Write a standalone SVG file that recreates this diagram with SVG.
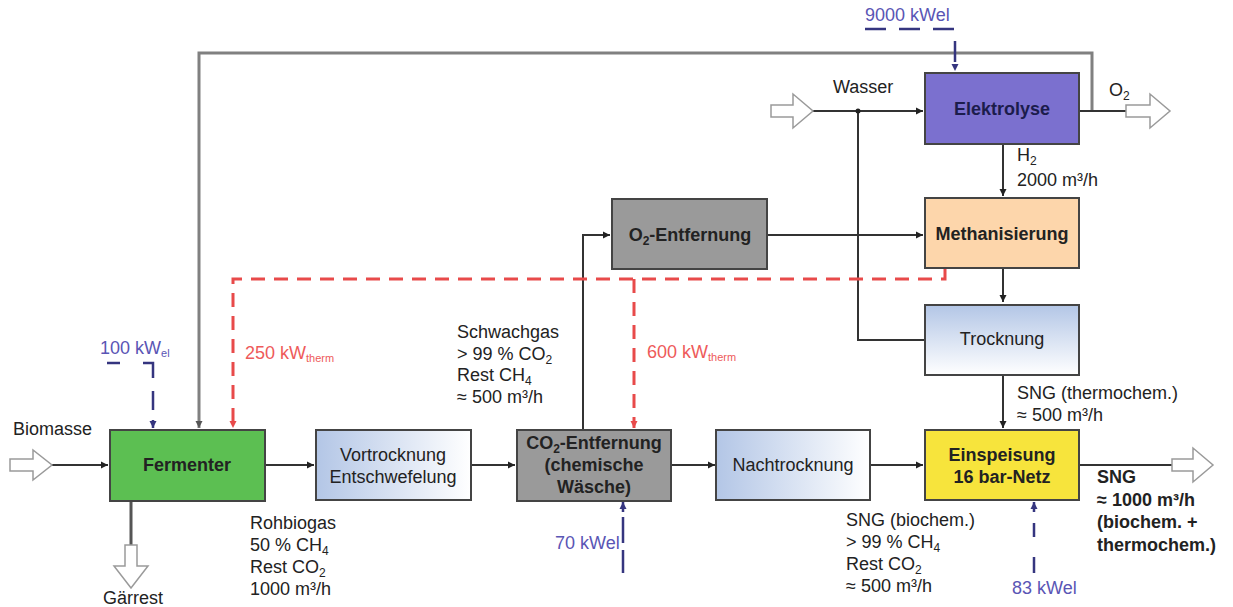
<svg xmlns="http://www.w3.org/2000/svg" width="1233" height="607" viewBox="0 0 1233 607">
<style>
.t{font-family:"Liberation Sans",Arial,sans-serif;font-size:18px;fill:#222}
.b{font-weight:bold}
.c{text-anchor:middle}
.blue{fill:#5a55b5}
.red{fill:#ee5a5a}
.box{stroke:#444;stroke-width:2}
.ln{fill:none;stroke:#333;stroke-width:2}
.loop{fill:none;stroke:#808080;stroke-width:3}
.rd{fill:none;stroke:#e84a4a;stroke-width:3;stroke-dasharray:14 9}
.bd{fill:none;stroke:#35357f;stroke-width:2.5}
.hollow{fill:#fff;stroke:#9a9a9a;stroke-width:1.5}
</style>
<defs>
<marker id="ah" markerWidth="8" markerHeight="8" refX="7" refY="4" orient="auto" markerUnits="userSpaceOnUse"><path d="M0,0.5 L7,4 L0,7.5 z" fill="#222"/></marker>
<marker id="ahg" markerWidth="8" markerHeight="8" refX="7" refY="4" orient="auto" markerUnits="userSpaceOnUse"><path d="M0,0.5 L7,4 L0,7.5 z" fill="#555"/></marker>
<marker id="ahr" markerWidth="8" markerHeight="8" refX="7" refY="4" orient="auto" markerUnits="userSpaceOnUse"><path d="M0,0.5 L7,4 L0,7.5 z" fill="#e84a4a"/></marker>
<marker id="ahb" markerWidth="8" markerHeight="8" refX="7" refY="4" orient="auto" markerUnits="userSpaceOnUse"><path d="M0,0.5 L7,4 L0,7.5 z" fill="#35357f"/></marker>
<linearGradient id="gh" x1="0" y1="0" x2="1" y2="0"><stop offset="0" stop-color="#b3c6e6"/><stop offset="1" stop-color="#ffffff"/></linearGradient>
<linearGradient id="gv" x1="0" y1="0" x2="0" y2="1"><stop offset="0" stop-color="#b3c6e6"/><stop offset="1" stop-color="#ffffff"/></linearGradient>
</defs>
<rect width="1233" height="607" fill="#fff"/>

<g id="connectors">
<path class="loop" d="M1092,111 V53 H199 V428" marker-end="url(#ahg)"/>
<path class="ln" d="M52,465 H108" marker-end="url(#ah)"/>
<path class="ln" d="M265,465 H314" marker-end="url(#ah)"/>
<path class="ln" d="M471,465 H515" marker-end="url(#ah)"/>
<path class="ln" d="M671,465 H715" marker-end="url(#ah)"/>
<path class="ln" d="M870,465 H923" marker-end="url(#ah)"/>
<path class="ln" d="M1079,465 H1172"/>
<path d="M131,501 V545" fill="none" stroke="#555" stroke-width="3"/>
<path class="ln" d="M583,430 V235 H610" marker-end="url(#ah)"/>
<path class="ln" d="M767,235 H923" marker-end="url(#ah)"/>
<path class="ln" d="M1003,144 V196" marker-end="url(#ah)"/>
<path class="ln" d="M1003,269 V302" marker-end="url(#ah)"/>
<path class="ln" d="M1003,375 V428" marker-end="url(#ah)"/>
<path class="ln" d="M813,111 H923" marker-end="url(#ah)"/>
<path class="ln" d="M1079,111 H1126"/>
<path class="ln" d="M925,340 H858 V111"/>
<circle cx="858" cy="111" r="2.5" fill="#222"/>
<path class="rd" d="M945,269 V279 H233 V428" marker-end="url(#ahr)"/>
<path class="rd" d="M634,279 V428" marker-end="url(#ahr)"/>
<path class="bd" d="M107,363 H120" />
<path class="bd" d="M143,363 H153 V378 M153,391 V410 M153,420 V428" marker-end="url(#ahb)"/>
<path class="bd" stroke-dasharray="21 13" d="M865,29 H955 V71" marker-end="url(#ahb)"/>
<path class="bd" d="M623,573 V550 M623,543 V517 M623,512 V502" marker-end="url(#ahb)"/>
<path class="bd" d="M1034,573 V557 M1034,537 V523 M1034,512 V502" marker-end="url(#ahb)"/>
</g>

<g id="arrows-hollow">
<polygon class="hollow" points="10,459 33,459 33,450 52,465 33,480 33,471 10,471"/>
<polygon class="hollow" points="771,105 793,105 793,94 813,111 793,128 793,117 771,117"/>
<polygon class="hollow" points="1126,105 1150,105 1150,94 1170,111 1150,128 1150,117 1126,117"/>
<polygon class="hollow" points="1172,459 1193,459 1193,448 1213,465 1193,482 1193,471 1172,471"/>
<polygon class="hollow" points="125,545 137,545 137,566 148,566 131,588 114,566 125,566"/>
</g>

<g id="fermenter">
<rect class="box" x="110" y="430" width="155" height="71" fill="#5cbf52"/>
<text class="t b c" x="187" y="471">Fermenter</text>
</g>
<g id="vortrocknung">
<rect class="box" x="316" y="430" width="155" height="70" fill="url(#gh)"/>
<text class="t c" x="393" y="461">Vortrocknung</text>
<text class="t c" x="393" y="483">Entschwefelung</text>
</g>
<g id="co2-entfernung">
<rect class="box" x="517" y="430" width="154" height="71" fill="#9a9a9a"/>
<text class="t b c" x="594" y="449">CO<tspan font-size="12" dy="4">2</tspan><tspan dy="-4">-Entfernung</tspan></text>
<text class="t b c" x="594" y="471">(chemische</text>
<text class="t b c" x="594" y="493">Wäsche)</text>
</g>
<g id="nachtrocknung">
<rect class="box" x="716" y="430" width="154" height="70" fill="url(#gh)"/>
<text class="t c" x="793" y="471">Nachtrocknung</text>
</g>
<g id="einspeisung">
<rect class="box" x="925" y="430" width="154" height="70" fill="#f7e43c"/>
<text class="t b c" x="1002" y="461">Einspeisung</text>
<text class="t b c" x="1002" y="483">16 bar-Netz</text>
</g>
<g id="o2-entfernung">
<rect class="box" x="612" y="199" width="155" height="70" fill="#9a9a9a"/>
<text class="t b c" x="690" y="241">O<tspan font-size="12" dy="4">2</tspan><tspan dy="-4">-Entfernung</tspan></text>
</g>
<g id="methanisierung">
<rect class="box" x="925" y="198" width="154" height="70" fill="#fdd6ab"/>
<text class="t b c" x="1002" y="240">Methanisierung</text>
</g>
<g id="trocknung">
<rect class="box" x="925" y="305" width="154" height="70" fill="url(#gv)"/>
<text class="t c" x="1002" y="345">Trocknung</text>
</g>
<g id="elektrolyse">
<rect class="box" x="925" y="73" width="154" height="71" fill="#7b70cf"/>
<text class="t b c" x="1002" y="115" style="fill:#1c1c4c">Elektrolyse</text>
</g>

<g id="labels">
<text class="t" x="13" y="435">Biomasse</text>
<text class="t" x="103" y="604">Gärrest</text>
<text class="t" x="250" y="529">Rohbiogas</text>
<text class="t" x="250" y="551">50 % CH<tspan font-size="12" dy="4">4</tspan></text>
<text class="t" x="250" y="573">Rest CO<tspan font-size="12" dy="4">2</tspan></text>
<text class="t" x="250" y="595">1000 m³/h</text>
<text class="t" x="457" y="338">Schwachgas</text>
<text class="t" x="457" y="360">&gt; 99 % CO<tspan font-size="12" dy="4">2</tspan></text>
<text class="t" x="457" y="381">Rest CH<tspan font-size="12" dy="4">4</tspan></text>
<text class="t" x="457" y="403">≈ 500 m³/h</text>
<text class="t" x="1017" y="399">SNG (thermochem.)</text>
<text class="t" x="1017" y="421">≈ 500 m³/h</text>
<text class="t" x="846" y="526">SNG (biochem.)</text>
<text class="t" x="846" y="548">&gt; 99 % CH<tspan font-size="12" dy="4">4</tspan></text>
<text class="t" x="846" y="570">Rest CO<tspan font-size="12" dy="4">2</tspan></text>
<text class="t" x="846" y="592">≈ 500 m³/h</text>
<text class="t b" x="1097" y="483">SNG</text>
<text class="t b" x="1097" y="506">≈ 1000 m³/h</text>
<text class="t b" x="1097" y="528">(biochem. +</text>
<text class="t b" x="1097" y="551">thermochem.)</text>
<text class="t" x="833" y="93">Wasser</text>
<text class="t" x="1109" y="96">O<tspan font-size="12" dy="4">2</tspan></text>
<text class="t" x="1017" y="161">H<tspan font-size="12" dy="4">2</tspan></text>
<text class="t" x="1017" y="186">2000 m³/h</text>
<text class="t blue" x="865" y="21">9000 kWel</text>
<text class="t blue" x="100" y="354">100 kW<tspan font-size="11" dy="3">el</tspan></text>
<text class="t red" x="245" y="359">250 kW<tspan font-size="11" dy="3">therm</tspan></text>
<text class="t red" x="647" y="358">600 kW<tspan font-size="11" dy="3">therm</tspan></text>
<text class="t blue" x="555" y="549">70 kWel</text>
<text class="t blue" x="1012" y="594">83 kWel</text>
</g>
</svg>
